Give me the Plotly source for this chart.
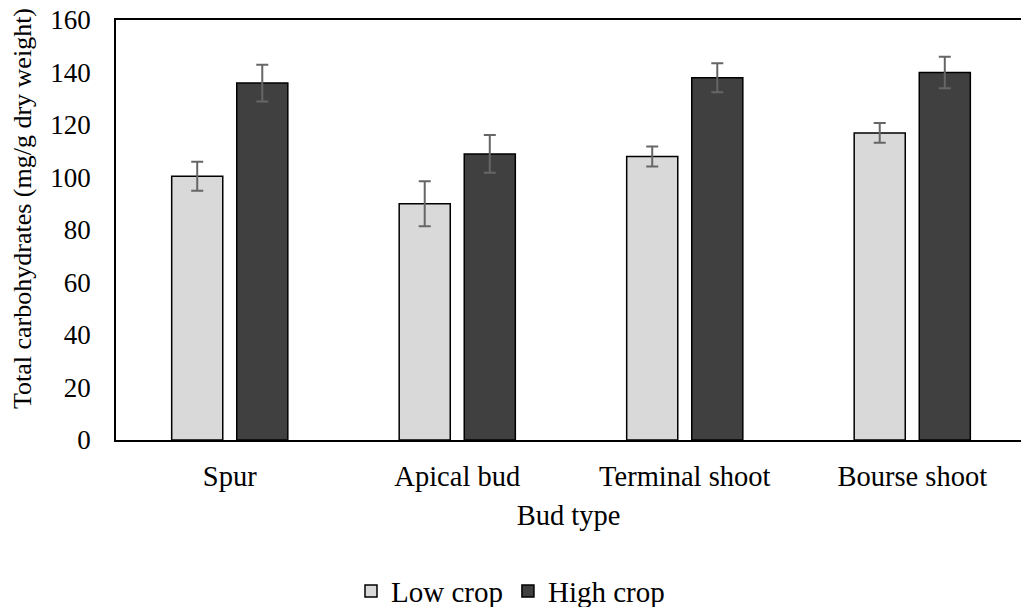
import plotly.graph_objects as go

categories = ["Spur", "Apical bud", "Terminal shoot", "Bourse shoot"]
low_crop = [100.5, 90.0, 108.0, 117.0]
low_err = [5.5, 8.6, 3.8, 3.8]
high_crop = [136.0, 109.0, 138.0, 140.0]
high_err = [7.0, 7.2, 5.5, 6.0]
y_ticks = [0, 20, 40, 60, 80, 100, 120, 140, 160]

FONT = "Liberation Serif"
err_style = dict(type="data", visible=True, color="#666666", thickness=2, width=6)

fig = go.Figure()
fig.add_trace(go.Bar(
    name="Low crop", x=categories, y=low_crop,
    error_y=dict(array=low_err, **err_style),
    marker=dict(color="#D9D9D9", line=dict(color="black", width=1.5)),
))
fig.add_trace(go.Bar(
    name="High crop", x=categories, y=high_crop,
    error_y=dict(array=high_err, **err_style),
    marker=dict(color="#404040", line=dict(color="black", width=1.5)),
))

fig.update_layout(
    width=1021, height=607,
    margin=dict(l=116, r=0, t=20, b=167, autoexpand=False),
    paper_bgcolor="white", plot_bgcolor="white",
    font=dict(family=FONT, size=28, color="black"),
    barmode="group", bargap=0.428, bargroupgap=0.215,
    legend=dict(orientation="h", xref="container", yref="container",
                x=0.5, xanchor="center", y=0.026, yanchor="middle",
                font=dict(family=FONT, size=29, color="black"),
                itemwidth=30, tracegroupgap=0),
    showlegend=True,
    annotations=[dict(
        text="Total carbohydrates (mg/g dry weight)", textangle=-90,
        xref="paper", yref="paper", x=-0.104, y=0.552,
        xanchor="center", yanchor="middle", showarrow=False,
        font=dict(family=FONT, size=26, color="black"),
    )],
)
fig.update_xaxes(
    range=[-0.5, 3.478],
    showline=True, linecolor="black", linewidth=1.5, mirror=True,
    showgrid=False, ticks="", ticklabelstandoff=10,
    tickfont=dict(family=FONT, size=28.5),
    title=dict(text="Bud type", standoff=14, font=dict(family=FONT, size=28.5)),
    automargin=False,
)
fig.update_yaxes(
    range=[0, 160], tickvals=y_ticks,
    showline=True, linecolor="black", linewidth=1.5,
    showgrid=False, zeroline=False, ticks="", ticklabelstandoff=18,
    tickfont=dict(family=FONT, size=27),
    automargin=False,
)

fig.write_html("out.html", config={"displayModeBar": False},
               post_script="document.body.style.margin='0';")
